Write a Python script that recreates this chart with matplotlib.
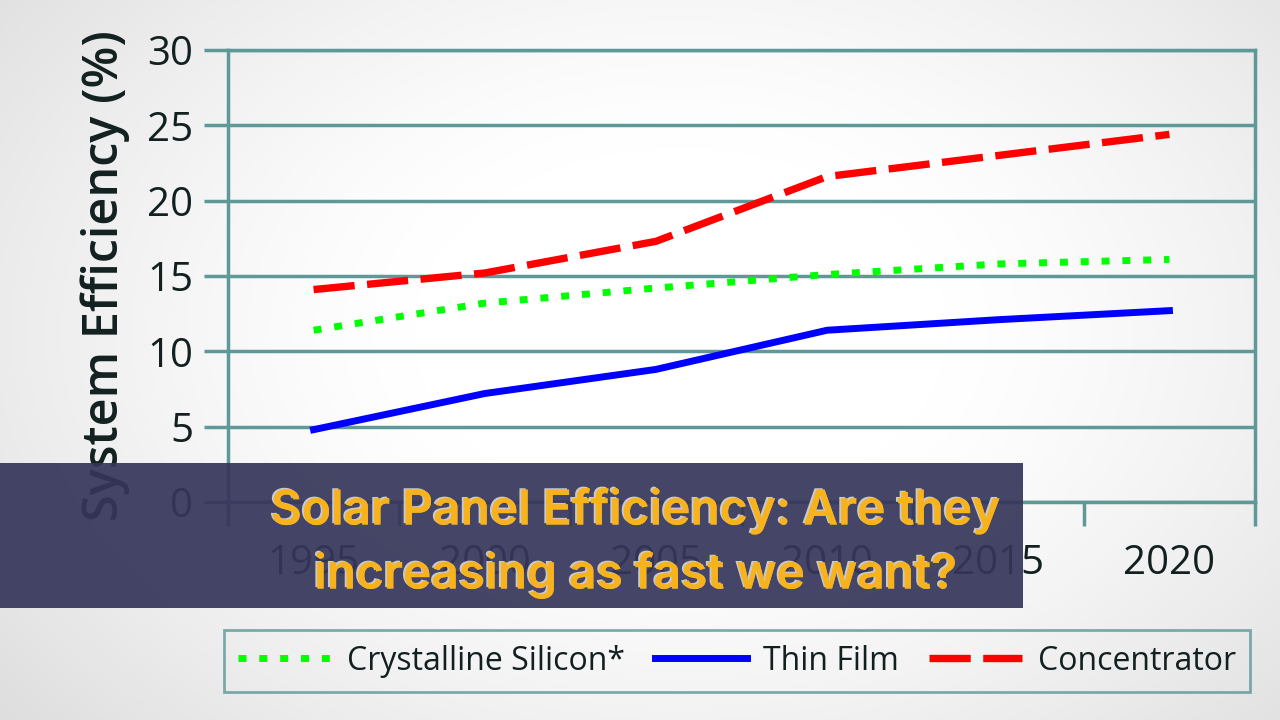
import numpy as np
import matplotlib.pyplot as plt
import matplotlib.patheffects as pe
from matplotlib.patches import Rectangle

# data
years = ['1995', '2000', '2005', '2010', '2015', '2020']
crystalline = [11.4, 13.2, 14.2, 15.1, 15.8, 16.1]
thin_film = [4.8, 7.2, 8.8, 11.4, 12.1, 12.7]
concentrator = [14.1, 15.2, 17.3, 21.6, 23.0, 24.4]
title_lines = ['Solar Panel Efficiency: Are they', 'increasing as fast we want?']

teal = '#5e9898'
ink = '#122020'
W, H = 1280, 720

plt.rcParams['font.family'] = ['Open Sans', 'DejaVu Sans']

fig = plt.figure(figsize=(12.8, 7.2), dpi=100)

# soft grey vignette background
bg = fig.add_axes([0, 0, 1, 1], zorder=-10)
yy, xx = np.mgrid[0:H, 0:W]
r = np.sqrt(((xx - 680) / 760.0) ** 2 + ((yy - 330) / 520.0) ** 2)
shade = 1.0 - 0.17 * np.clip(r - 0.35, 0, 1) ** 1.3
bg.imshow(np.dstack([shade] * 3), extent=[0, 1, 0, 1], aspect='auto')
bg.axis('off')

# chart axes, placed by pixel positions
left, right, top, bottom = 228, 1255, 50, 502
ax = fig.add_axes([left / W, 1 - bottom / H, (right - left) / W, (bottom - top) / H])
ax.patch.set_alpha(0)

x = np.arange(len(years))
ax.plot(x, crystalline, color='#00ff00', lw=5, linestyle=(0, (1.15, 1.85)),
        dash_capstyle='butt', label='Crystalline Silicon*', zorder=3)
ax.plot(x, thin_film, color='#0000ff', lw=5, label='Thin Film', zorder=3)
ax.plot(x, concentrator, color='#ff0000', lw=5.3, linestyle=(0, (5.6, 1.7)),
        label='Concentrator', zorder=3)

ax.set_xlim(-0.5, 5.5)
ax.set_ylim(0, 30)
ax.set_yticks(range(0, 31, 5))
ax.set_xticks(x)
ax.set_xticklabels(years)
ax.set_xticks(np.arange(-0.5, 6, 1), minor=True)
ax.grid(axis='y', color=teal, lw=2.5, zorder=1)
for s in ax.spines.values():
    s.set_color(teal)
    s.set_linewidth(2.5)
ax.tick_params(axis='y', length=17, width=2.5, color=teal, pad=8,
               labelsize=29, labelcolor=ink)
ax.tick_params(axis='x', which='major', length=0, pad=30,
               labelsize=29, labelcolor=ink)
ax.tick_params(axis='x', which='minor', length=17, width=2.5, color=teal)
ax.set_ylabel('System Efficiency (%)', fontsize=35, fontweight='semibold',
              color=ink, labelpad=12)

leg = fig.legend(loc='lower left', ncol=3, mode='expand',
                 bbox_to_anchor=(224 / W, 1 - 692 / H, (1250 - 224) / W, 75 / H),
                 fontsize=23, frameon=True, fancybox=False, handlelength=2.9,
                 handletextpad=0.5, borderaxespad=0, borderpad=0.45)
leg.get_frame().set_edgecolor(teal)
leg.get_frame().set_linewidth(2)
leg.get_frame().set_facecolor('none')
for t in leg.get_texts():
    t.set_color(ink)

# title banner over the chart
fig.patches.append(Rectangle((0, 1 - 608 / H), 1023 / W, 145 / H,
                             transform=fig.transFigure, facecolor='#35355a',
                             alpha=0.92, zorder=20))
shadow = [pe.withSimplePatchShadow(offset=(-1.5, 1), shadow_rgbFace='#d8d8d8', alpha=0.9),
          pe.Normal()]
for i, line in enumerate(title_lines):
    fig.text(636 / W, 1 - (511 + 64 * i) / H, line, ha='center', va='center',
             fontsize=34.5, fontweight='semibold', color='#f7b21c',
             family=['Inter', 'DejaVu Sans'], zorder=21, path_effects=shadow)

fig.savefig('out.png', dpi=100)
